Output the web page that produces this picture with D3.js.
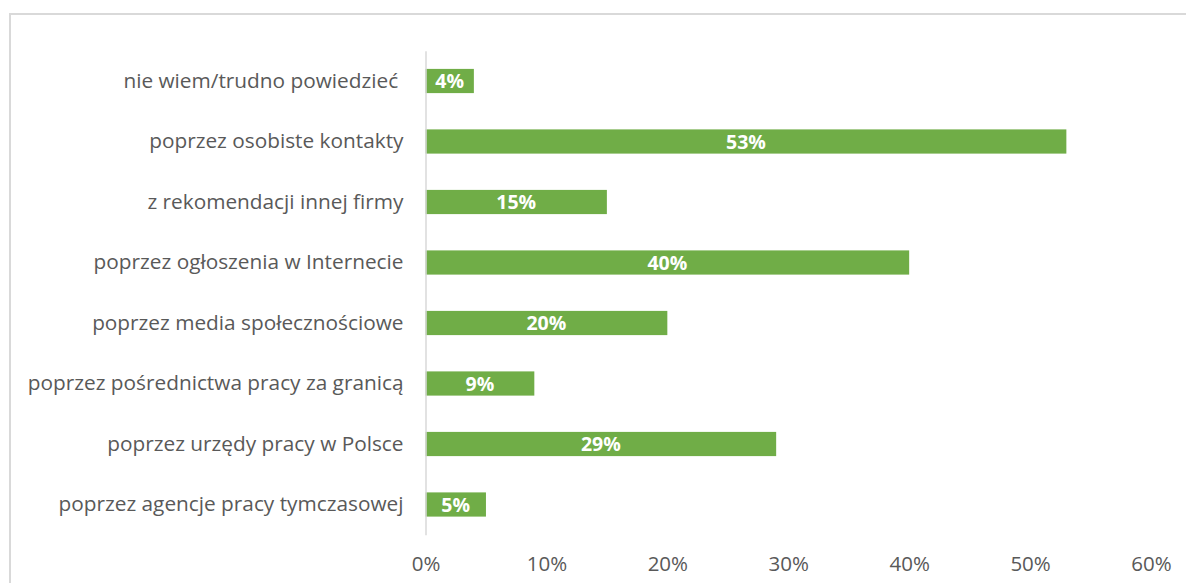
<!DOCTYPE html>
<html>
<head>
<meta charset="utf-8">
<script src="https://cdn.jsdelivr.net/npm/d3@7"></script>
<style>
  html, body { margin: 0; padding: 0; background: #fff; }
  svg { display: block; }
  svg text { white-space: pre; }
</style>
</head>
<body>
<svg id="chart" width="1186" height="583"></svg>
<script>
// Categories listed top to bottom
const categories = [
  "nie wiem/trudno powiedzieć ",
  "poprzez osobiste kontakty",
  "z rekomendacji innej firmy",
  "poprzez ogłoszenia w Internecie",
  "poprzez media społecznościowe",
  "poprzez pośrednictwa pracy za granicą",
  "poprzez urzędy pracy w Polsce",
  "poprzez agencje pracy tymczasowej"
];
const values = [4, 53, 15, 40, 20, 9, 29, 5];
const tickValues = [0, 10, 20, 30, 40, 50, 60];

const svg = d3.select("#chart");
const fontFamily = "'Open Sans', sans-serif";

// Outer chart frame
svg.append("rect")
  .attr("x", 10).attr("y", 14)
  .attr("width", 1190).attr("height", 600)
  .attr("fill", "none")
  .attr("stroke", "#d9d9d9")
  .attr("stroke-width", 2);

const x = d3.scaleLinear().domain([0, 60]).range([425.5, 1151]);
const y = d3.scaleBand()
  .domain(categories)
  .range([50.75, 534.75])
  .paddingInner(0.6)
  .paddingOuter(0.3);

// Bars
svg.append("g").selectAll("rect")
  .data(values)
  .join("rect")
  .attr("x", x(0))
  .attr("y", (d, i) => y(categories[i]))
  .attr("width", d => x(d) - x(0))
  .attr("height", y.bandwidth())
  .attr("fill", "#70ad47");

// Value labels inside the bars
svg.append("g").selectAll("text")
  .data(values)
  .join("text")
  .attr("x", d => (x(0) + x(d)) / 2)
  .attr("y", (d, i) => y(categories[i]) + y.bandwidth() / 2)
  .attr("dy", "0.36em")
  .attr("text-anchor", "middle")
  .attr("fill", "#ffffff")
  .attr("font-family", fontFamily)
  .attr("font-weight", "bold")
  .attr("font-size", 19.5)
  .text(d => d + "%");

// Vertical category axis
const yAxis = svg.append("g")
  .attr("transform", `translate(${x(0)},0)`)
  .call(d3.axisLeft(y).tickSize(0).tickPadding(22));
yAxis.select(".domain").attr("stroke", "#d9d9d9").attr("stroke-width", 1.5);
yAxis.selectAll("text")
  .attr("fill", "#595959")
  .attr("font-family", fontFamily)
  .attr("font-size", 20.8);

// Horizontal value axis (labels only)
const xAxis = svg.append("g")
  .attr("transform", "translate(0,553)")
  .call(d3.axisBottom(x).tickValues(tickValues).tickSize(0).tickPadding(3)
    .tickFormat(d => d + "%"));
xAxis.select(".domain").remove();
xAxis.selectAll("text")
  .attr("fill", "#595959")
  .attr("font-family", fontFamily)
  .attr("font-size", 20.5);
</script>
</body>
</html>
